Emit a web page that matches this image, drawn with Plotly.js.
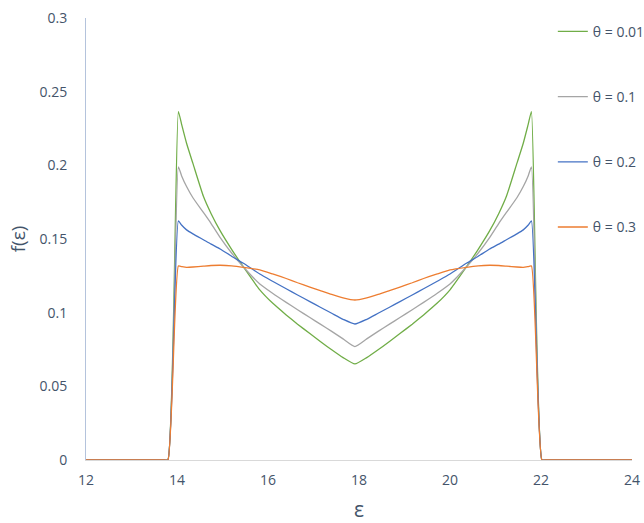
<!DOCTYPE html>
<html>
<head>
<meta charset="utf-8">
<script src="https://cdn.plot.ly/plotly-3.0.1.min.js"></script>
<style>html,body{margin:0;padding:0;background:#fff;}#chart{width:644px;height:523px;}</style>
</head>
<body>
<div id="chart"></div>
<script>
// energy axis (ε)
var eps = [12, 13, 13.72, 13.8, 14.03, 14.1, 14.21, 14.35, 14.58, 14.75, 14.95, 15.2, 15.46, 15.82,
           16.1, 16.4, 16.65, 16.92, 17.15, 17.4, 17.65, 17.91,
           18.17, 18.42, 18.67, 18.9, 19.17, 19.42, 19.72, 20.0, 20.36, 20.62, 20.87, 21.07, 21.24,
           21.47, 21.61, 21.72, 21.79, 22.02, 22.1, 23, 24];

var seriesNames = ["θ = 0.01", "θ = 0.1", "θ = 0.2", "θ = 0.3"];
var seriesColors = ["#70ad47", "#a5a5a5", "#4472c4", "#ed7d31"];

var f001 = [0, 0, 0, 0,
  0.2365, 0.228, 0.215, 0.2013, 0.179, 0.1672, 0.1555, 0.143, 0.131, 0.1155, 0.1065, 0.0985, 0.0922, 0.0858, 0.0805, 0.0748, 0.0695, 0.0652,
  0.0695, 0.0748, 0.0805, 0.0858, 0.0922, 0.0985, 0.1065, 0.1155, 0.131, 0.143, 0.1555, 0.1672, 0.179, 0.2013, 0.215, 0.228, 0.2365,
  0, 0, 0, 0];
var f01 = [0, 0, 0, 0,
  0.199, 0.193, 0.1856, 0.178, 0.168, 0.1605, 0.151, 0.1405, 0.131, 0.1195, 0.1132, 0.107, 0.102, 0.0967, 0.0922, 0.0873, 0.0822, 0.077,
  0.0822, 0.0873, 0.0922, 0.0967, 0.102, 0.107, 0.1132, 0.1195, 0.131, 0.1405, 0.151, 0.1605, 0.168, 0.178, 0.1856, 0.193, 0.199,
  0, 0, 0, 0];
var f02 = [0, 0, 0, 0,
  0.1623, 0.1595, 0.1562, 0.1535, 0.1495, 0.1465, 0.1432, 0.1383, 0.1335, 0.1262, 0.1213, 0.1162, 0.112, 0.1075, 0.1037, 0.0996, 0.0955, 0.0923,
  0.0955, 0.0996, 0.1037, 0.1075, 0.112, 0.1162, 0.1213, 0.1262, 0.1335, 0.1383, 0.1432, 0.1465, 0.1495, 0.1535, 0.1562, 0.1595, 0.1623,
  0, 0, 0, 0];
var f03 = [0, 0, 0, 0,
  0.1317, 0.1313, 0.1308, 0.131, 0.1316, 0.132, 0.1322, 0.1318, 0.1308, 0.129, 0.1263, 0.1232, 0.1203, 0.1174, 0.115, 0.1124, 0.1101, 0.1086,
  0.1101, 0.1124, 0.115, 0.1174, 0.1203, 0.1232, 0.1263, 0.129, 0.1308, 0.1318, 0.1322, 0.132, 0.1316, 0.131, 0.1308, 0.1313, 0.1317,
  0, 0, 0, 0];

var values = [f001, f01, f02, f03];
var traces = values.map(function (v, i) {
  return {
    x: eps, y: v, type: "scatter", mode: "lines",
    name: seriesNames[i], legendgroup: "g" + i,
    line: {color: seriesColors[i], width: 1.3, shape: "spline", smoothing: 0.5}
  };
});

var txt = "#44546a";
var layout = {
  width: 644, height: 523,
  margin: {l: 86, r: 12, t: 18, b: 63, autoexpand: false},
  paper_bgcolor: "#fff", plot_bgcolor: "#fff",
  font: {family: "Open Sans, Liberation Sans, sans-serif", color: txt, size: 14},
  showlegend: true,
  legend: {x: 0.855, xanchor: "left", y: 1.005, yanchor: "top",
           font: {size: 14, color: txt}, itemwidth: 30, tracegroupgap: 44,
           borderwidth: 0, bgcolor: "rgba(0,0,0,0)"},
  xaxis: {range: [12, 24], dtick: 2, tick0: 12, showgrid: false, zeroline: false,
          showline: true, linecolor: "#d9d9d9", linewidth: 1, ticks: "", layer: "below traces",
          tickfont: {size: 14, color: txt}, ticklabelstandoff: 7,
          title: {text: "ε", font: {size: 21, color: txt}, standoff: 20}},
  yaxis: {range: [0, 0.3], dtick: 0.05, showgrid: false, zeroline: false,
          showline: true, linecolor: "#b4c3dc", linewidth: 1, ticks: "", layer: "below traces",
          tickfont: {size: 14, color: txt}, ticklabelstandoff: 15,
          title: {text: "f(ε)", font: {size: 19, color: txt}, standoff: 8}}
};
Plotly.newPlot("chart", traces, layout, {displayModeBar: false, staticPlot: true});
</script>
</body>
</html>
